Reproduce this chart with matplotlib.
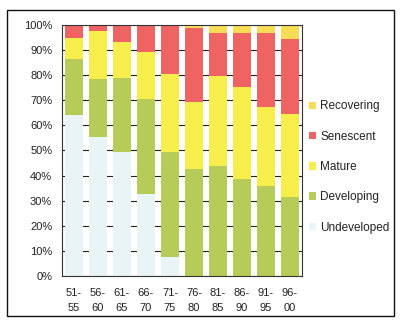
import matplotlib
matplotlib.use("Agg")
import matplotlib.pyplot as plt
from matplotlib.patches import Rectangle, Patch
import numpy as np

plt.rcParams['font.family'] = ['Liberation Sans', 'DejaVu Sans']

periods = ["51-\n55", "56-\n60", "61-\n65", "66-\n70", "71-\n75",
           "76-\n80", "81-\n85", "86-\n90", "91-\n95", "96-\n00"]
undeveloped = [64.1, 55.5, 49.5, 32.7, 7.4, 0, 0, 0, 0, 0]
developing = [22.4, 22.9, 29.5, 37.7, 42.1, 42.6, 43.8, 38.8, 35.9, 31.4]
mature = [8.5, 19.3, 14.3, 18.7, 31.0, 26.8, 35.7, 36.4, 31.6, 33.0]
senescent = [5.0, 2.3, 6.7, 10.9, 19.5, 29.6, 17.4, 21.7, 29.4, 30.1]
recovering = [0, 0, 0, 0, 0, 1.0, 3.1, 3.1, 3.1, 5.5]

series = [("Undeveloped", undeveloped, "#e9f4f6"),
          ("Developing", developing, "#b6cb58"),
          ("Mature", mature, "#f7ee4c"),
          ("Senescent", senescent, "#ef6363"),
          ("Recovering", recovering, "#f7dc55")]

fig = plt.figure(figsize=(4.0, 3.25), dpi=100)
ax = fig.add_axes([0.155, 0.151, 0.600, 0.772])

x = np.arange(len(periods))
bottom = np.zeros(len(periods))
handles = []
for name, vals, col in series:
    ax.bar(x, vals, bottom=bottom, width=0.75, color=col, zorder=2)
    bottom += np.array(vals)
    handles.append(Patch(facecolor=col, edgecolor='none', label=name))

ax.set_xlim(-0.5, len(periods) - 0.5)
ax.set_ylim(0, 100)
ax.set_yticks(np.arange(0, 101, 10))
ax.set_yticklabels([f"{v}%" for v in range(0, 101, 10)], fontsize=8, color="#222222")
ax.set_xticks(x)
ax.set_xticklabels(periods, fontsize=8, color="#222222", linespacing=1.65)
ax.tick_params(axis='y', length=0, pad=7)
ax.tick_params(axis='x', length=0, pad=8.5)
ax.yaxis.grid(True, color="#222222", linewidth=0.8, zorder=0)
ax.set_axisbelow(True)
for s in ax.spines.values():
    s.set_color("#333333")
    s.set_linewidth(0.8)

fig.legend(handles=handles[::-1], loc='center left', bbox_to_anchor=(0.745, 0.486),
           frameon=False, fontsize=8.5, handlelength=0.6, handleheight=0.6,
           handletextpad=0.4, labelspacing=1.55, labelcolor="#222222")

fig.patches.append(Rectangle((7/400, 1 - 316/325), (394 - 7)/400, (316 - 10)/325,
                             transform=fig.transFigure, fill=False,
                             edgecolor="#111111", linewidth=1.0))

fig.savefig("out.png", dpi=100)
